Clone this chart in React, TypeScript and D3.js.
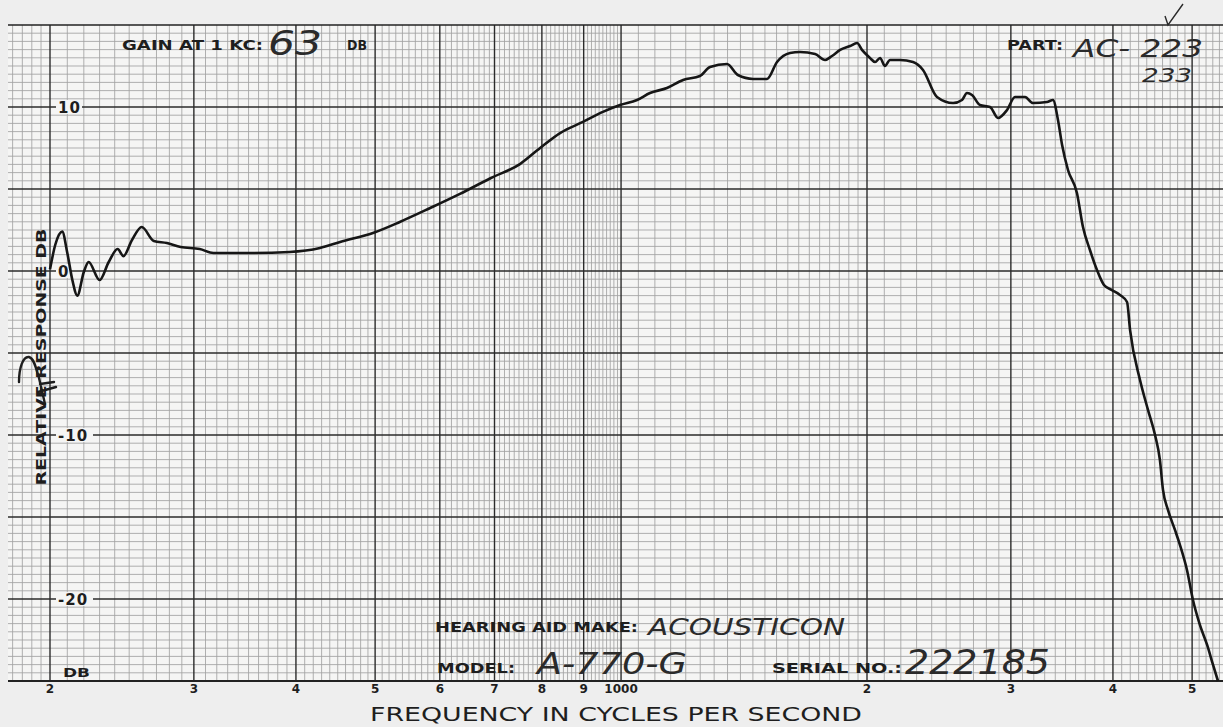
import * as d3 from "d3";

// frequency response (Hz, dB relative)
const freqHz = [
  200, 203, 207, 210, 213, 216, 220, 223, 230, 236, 242, 246, 252, 259, 268,
  278, 289, 305, 317, 352, 393, 428, 453, 497, 536, 584, 635, 693, 752, 796,
  842, 898, 950, 997, 1046, 1085, 1138, 1191, 1249, 1285, 1348, 1390, 1451,
  1509, 1552, 1610, 1656, 1728, 1777, 1812, 1854, 1907, 1945, 1972, 2017,
  2046, 2075, 2104, 2134, 2195, 2277, 2342, 2436, 2549, 2614, 2651, 2689,
  2750, 2829, 2893, 2968, 3035, 3122, 3193, 3321, 3378, 3426, 3466, 3524,
  3614, 3676, 3749, 3824, 3900, 3989, 4080, 4162, 4198, 4317, 4416, 4504,
  4566, 4606, 4671, 4764, 4832, 4928, 5012, 5112, 5216, 5304, 5378,
];
const responseDb = [
  0.1, 1.6, 2.4, 1.1, -0.55, -1.5, -0.06, 0.55, -0.55, 0.55, 1.34, 0.91, 1.89,
  2.68, 1.83, 1.71, 1.46, 1.34, 1.1, 1.1, 1.16, 1.4, 1.77, 2.32, 2.99, 3.84,
  4.7, 5.67, 6.52, 7.5, 8.41, 9.09, 9.7, 10.12, 10.43, 10.85, 11.16, 11.65,
  11.89, 12.44, 12.62, 11.95, 11.71, 11.71, 12.74, 13.29, 13.35, 13.23, 12.87,
  13.11, 13.48, 13.72, 13.9, 13.48, 12.99, 12.74, 12.99, 12.5, 12.87, 12.87,
  12.74, 12.26, 10.61, 10.24, 10.43, 10.85, 10.73, 10.12, 10.0, 9.33, 9.82,
  10.61, 10.61, 10.24, 10.3, 10.43, 9.21, 7.68, 6.16, 4.76, 2.68, 1.28, 0.06,
  -0.85, -1.16, -1.46, -1.89, -3.6, -6.65, -8.48, -10.0, -11.52, -13.35,
  -14.57, -15.79, -16.71, -18.23, -20.06, -21.59, -22.8, -24.02, -25.0,
];

const freqTicks = [200, 300, 400, 500, 600, 700, 800, 900, 1000, 2000, 3000, 4000, 5000];
const freqTickLabels = ["2", "3", "4", "5", "6", "7", "8", "9", "1000", "2", "3", "4", "5"];
const dbTicks = [10, 0, -10, -20];
const dbTickLabels = ["10", "0", "-10", "-20"];

const W = 1223;
const H = 727;
const left = 8;
const top = 25;
const bottom = 681;

const ink = "#1e1e1e";
const printed = "'DejaVu Sans', Verdana, sans-serif";
const hand = "'DejaVu Sans', sans-serif";

// printed form captions: [text, x, y, width]
const captions: [string, number, number, number][] = [
  ["GAIN AT 1 KC:", 122, 50, 141],
  ["DB", 347, 50, 20],
  ["PART:", 1007, 50, 56],
  ["HEARING AID MAKE:", 435, 632, 203],
  ["MODEL:", 437, 673, 78],
  ["SERIAL NO.:", 772, 673, 130],
];
// handwritten entries: [text, x, y, size, width]
const handwritten: [string, number, number, number, number][] = [
  ["63", 268, 55, 34, 54],
  ["AC- 223", 1073, 57, 24, 130],
  ["233", 1142, 82, 19, 50],
  ["ACOUSTICON", 648, 635, 23, 197],
  ["A-770-G", 537, 674, 30, 150],
  ["222185", 905, 674, 33, 145],
];

export default function App() {
  const x = d3.scaleLog().domain([200, 2000]).range([50, 867]);
  const y = d3.scaleLinear().domain([-25, 15]).range([bottom, top]);
  const fMax = x.invert(W);

  const minorF = [
    ...d3.range(180, 200, 5),
    ...d3.range(200, 1000, 10),
    ...d3.range(1000, 2000, 50),
    ...d3.range(2000, 6000, 100),
  ].filter((f) => f <= fMax && !freqTicks.includes(f));
  const minorDb = d3.range(-25, 15.01, 0.5).filter((v) => Math.abs(v % 5) > 0.01);
  const majorDb = d3.range(-20, 15, 5);

  const pts = freqHz.map((f, i) => [f, responseDb[i]] as [number, number]);
  const line = d3
    .line<[number, number]>()
    .x((d) => x(d[0]))
    .y((d) => y(d[1]))
    .curve(d3.curveMonotoneX);

  return (
    <svg
      width={W}
      height={H}
      style={{ position: "absolute", left: 0, top: 0, background: "#eeeeee" }}
    >
      <rect x={left} y={top} width={W - left} height={bottom - top} fill="#f5f5f4" />

      {/* fine grid */}
      <g stroke="#a2a2a2" strokeWidth={0.85}>
        {minorF.map((f) => (
          <line key={"vf" + f} x1={x(f)} x2={x(f)} y1={top} y2={bottom} />
        ))}
        {minorDb.map((v) => (
          <line key={"hd" + v} x1={left} x2={W} y1={y(v)} y2={y(v)} />
        ))}
      </g>
      {/* heavy grid */}
      <g stroke="#2b2b2b" strokeWidth={1.4}>
        {freqTicks.map((f) => (
          <line key={"vF" + f} x1={x(f)} x2={x(f)} y1={top} y2={bottom} />
        ))}
        {majorDb.map((v) => (
          <line key={"hD" + v} x1={left} x2={W} y1={y(v)} y2={y(v)} />
        ))}
      </g>
      <line x1={left} x2={W} y1={top} y2={top} stroke="#222" strokeWidth={1.6} />
      <line x1={left} x2={W} y1={bottom} y2={bottom} stroke="#222" strokeWidth={2} />

      {/* dB labels on the paper */}
      {dbTicks.map((v, i) => (
        <g key={"db" + v}>
          <rect x={56} y={y(v) - 7} width={dbTickLabels[i].length * 11 + 4} height={14} fill="#f5f5f4" />
          <text
            x={58}
            y={y(v) + 6}
            fontFamily={printed}
            fontWeight="bold"
            fontSize={15}
            letterSpacing={1}
            fill={ink}
          >
            {dbTickLabels[i]}
          </text>
        </g>
      ))}
      <text x={63} y={677} fontFamily={printed} fontWeight="bold" fontSize={12} textLength={27} lengthAdjust="spacingAndGlyphs" fill={ink}>
        DB
      </text>

      <text
        transform="translate(46,357) rotate(-90)"
        textAnchor="middle"
        fontFamily={printed}
        fontWeight="bold"
        fontSize={14}
        textLength={257}
        lengthAdjust="spacingAndGlyphs"
        fill={ink}
      >
        RELATIVE RESPONSE DB
      </text>

      {/* response curve */}
      <path d={line(pts) ?? ""} fill="none" stroke="#161616" strokeWidth={2.6} strokeLinejoin="round" />

      {/* frequency labels */}
      {freqTicks.map((f, i) => (
        <text
          key={"ft" + f}
          x={x(f)}
          y={693}
          textAnchor="middle"
          fontFamily={printed}
          fontWeight="bold"
          fontSize={12}
          fill={ink}
        >
          {freqTickLabels[i]}
        </text>
      ))}
      <text
        x={370}
        y={721}
        fontFamily={printed}
        fontSize={20}
        textLength={492}
        lengthAdjust="spacingAndGlyphs"
        fill={ink}
      >
        FREQUENCY IN CYCLES PER SECOND
      </text>

      {/* printed form fields */}
      {captions.map(([t, cx, cy, w]) => (
        <text
          key={t}
          x={cx}
          y={cy}
          textLength={w}
          lengthAdjust="spacingAndGlyphs"
          fontFamily={printed}
          fontWeight="bold"
          fontSize={14}
          fill={ink}
        >
          {t}
        </text>
      ))}

      {/* handwritten entries */}
      {handwritten.map(([t, hx, hy, s, w]) => (
        <text
          key={t}
          x={hx}
          y={hy}
          fontSize={s}
          textLength={w}
          lengthAdjust="spacingAndGlyphs"
          fontFamily={hand}
          fontWeight={200}
          fontStyle="italic"
          fill="#2a2a2a"
        >
          {t}
        </text>
      ))}
      <path d="M1165,16 L1168,25 L1183,4" fill="none" stroke="#2a2a2a" strokeWidth={1.4} />
      <path
        d="M19,382 C19,368 23,356 29,357 C34,358 36,368 39,378 L45,404 M38,392 L56,387 M40,384 L54,382"
        fill="none"
        stroke="#1e1e1e"
        strokeWidth={2.4}
        strokeLinecap="round"
      />
    </svg>
  );
}
